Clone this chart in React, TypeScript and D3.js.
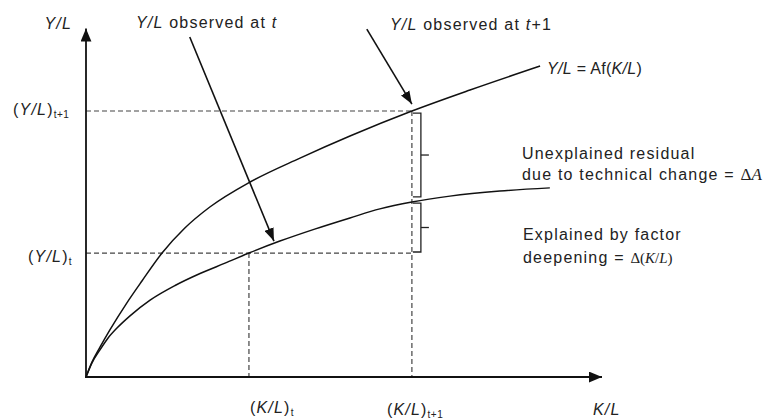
import React from 'react';
import * as d3 from 'd3';

// values (x = K/L units, y = Y/L units)
const kt = 3;
const kt1 = 6;
const yt = 4.66;
const yt1 = 10;

const upperX = [0, 0.11, 0.26, 0.44, 0.75, 1.03, 1.4, 1.82, 2.28, 3.02, 3.94, 4.86, 6.0, 7.07, 8.36];
const upperY = [0, 0.56, 1.13, 1.77, 2.78, 3.61, 4.66, 5.6, 6.39, 7.33, 8.23, 9.06, 10.0, 10.79, 11.69];

const lowerX = [0, 0.11, 0.26, 0.4, 0.57, 0.81, 1.18, 1.64, 2.1, 2.56, 3.0, 3.57, 4.21, 4.86, 5.41, 6.0, 6.7, 7.62, 8.54];
const lowerY = [0, 0.53, 1.03, 1.45, 1.84, 2.3, 2.89, 3.44, 3.89, 4.28, 4.66, 5.11, 5.56, 5.98, 6.32, 6.58, 6.8, 6.99, 7.11];

// annotation arrows: [fromX, fromY, toX, toY]
const arrowT = [1.91, 12.78, 3.46, 5.11];
const arrowT1 = [5.17, 13.08, 6.0, 10.26];

const W = 772;
const H = 419;

const xScale = d3.scaleLinear().domain([0, 9.5]).range([86, 602]);
const yScale = d3.scaleLinear().domain([0, 13]).range([377, 31.2]);

const line = d3
  .line<[number, number]>()
  .x((d) => xScale(d[0]))
  .y((d) => yScale(d[1]))
  .curve(d3.curveMonotoneX);

const upper = upperX.map((x, i) => [x, upperY[i]] as [number, number]);
const lower = lowerX.map((x, i) => [x, lowerY[i]] as [number, number]);

const sans = "'Liberation Sans', Arial, sans-serif";
const serif = "'Liberation Serif', 'Times New Roman', serif";
const txt = { fontFamily: sans, fontSize: 16, letterSpacing: 1.2, fill: '#222' };

function Bracket({ top, bottom }: { top: number; bottom: number }) {
  const x0 = xScale(kt1) + 1;
  const x1 = xScale(kt1) + 9;
  const mid = (yScale(top) + yScale(bottom)) / 2;
  return (
    <g stroke="#222" strokeWidth={1.3} fill="none">
      <path d={`M${x0},${yScale(top)}H${x1}V${yScale(bottom)}H${x0}`} />
      <line x1={x1} x2={x1 + 8} y1={mid} y2={mid} />
    </g>
  );
}

export default function App() {
  const x0 = xScale(0);
  const y0 = yScale(0);
  return (
    <svg
      width={W}
      height={H}
      style={{ position: 'absolute', left: 0, top: 0, background: '#fff' }}
    >
      <defs>
        <marker id="axisHead" markerUnits="userSpaceOnUse" viewBox="0 0 12 10" refX={12} refY={5}
          markerWidth={13} markerHeight={11} orient="auto">
          <path d="M0,0L12,5L0,10Z" fill="#111" />
        </marker>
        <marker id="head" markerUnits="userSpaceOnUse" viewBox="0 0 12 9" refX={12} refY={4.5}
          markerWidth={13} markerHeight={10} orient="auto">
          <path d="M0,0L12,4.5L0,9Z" fill="#111" />
        </marker>
      </defs>

      {/* dashed guides */}
      <g stroke="#444" strokeWidth={1.2} strokeDasharray="5,3" fill="none">
        <line x1={x0} x2={xScale(kt1)} y1={yScale(yt1)} y2={yScale(yt1)} />
        <line x1={x0} x2={xScale(kt1)} y1={yScale(yt)} y2={yScale(yt)} />
        <line x1={xScale(kt)} x2={xScale(kt)} y1={yScale(yt)} y2={y0} />
        <line x1={xScale(kt1)} x2={xScale(kt1)} y1={yScale(yt1)} y2={y0} />
      </g>

      {/* curves */}
      <path d={line(upper) || ''} fill="none" stroke="#111" strokeWidth={1.5} />
      <path d={line(lower) || ''} fill="none" stroke="#111" strokeWidth={1.5} />

      {/* axes */}
      <line x1={x0} y1={y0 + 1} x2={x0} y2={yScale(13.1)} stroke="#111" strokeWidth={1.8} markerEnd="url(#axisHead)" />
      <line x1={x0 - 1} y1={y0} x2={xScale(9.5)} y2={y0} stroke="#111" strokeWidth={1.8} markerEnd="url(#axisHead)" />

      {/* annotation arrows */}
      {[arrowT, arrowT1].map((a, i) => (
        <line key={i} x1={xScale(a[0])} y1={yScale(a[1])} x2={xScale(a[2])} y2={yScale(a[3])}
          stroke="#111" strokeWidth={1.6} markerEnd="url(#head)" />
      ))}

      <Bracket top={9.92} bottom={6.77} />
      <Bracket top={6.54} bottom={4.7} />

      {/* axis labels */}
      <text {...txt} x={72} y={29} textAnchor="end"><tspan fontStyle="italic">Y/L</tspan></text>
      <text {...txt} x={593} y={415}><tspan fontStyle="italic">K/L</tspan></text>

      <text {...txt} x={13} y={yScale(yt1) + 4}>
        (<tspan fontStyle="italic">Y/L</tspan>)<tspan fontSize={10} dy={3} letterSpacing={0.5}>t+1</tspan>
      </text>
      <text {...txt} x={28} y={yScale(yt) + 9}>
        (<tspan fontStyle="italic">Y/L</tspan>)<tspan fontSize={10} dy={3}>t</tspan>
      </text>
      <text {...txt} x={xScale(kt) + 1} y={413}>
        (<tspan fontStyle="italic">K/L</tspan>)<tspan fontSize={10} dy={3}>t</tspan>
      </text>
      <text {...txt} x={xScale(kt1) - 25} y={415}>
        (<tspan fontStyle="italic">K/L</tspan>)<tspan fontSize={10} dy={3} letterSpacing={0.5}>t+1</tspan>
      </text>

      {/* annotations */}
      <text {...txt} x={136} y={28}>
        <tspan fontStyle="italic">Y/L</tspan> observed at <tspan fontStyle="italic">t</tspan>
      </text>
      <text {...txt} x={390} y={30}>
        <tspan fontStyle="italic">Y/L</tspan> observed at <tspan fontStyle="italic">t</tspan>+1
      </text>
      <text {...txt} x={547} y={74} letterSpacing={0.3}>
        <tspan fontStyle="italic">Y/L</tspan> = Af(<tspan fontStyle="italic">K/L</tspan>)
      </text>

      <text {...txt} x={522} y={159}>Unexplained residual</text>
      <text {...txt} x={522} y={180}>
        due to technical change ={' '}
        <tspan fontFamily={serif} fontSize={17} letterSpacing={0}>Δ<tspan fontStyle="italic">A</tspan></tspan>
      </text>
      <text {...txt} x={523} y={240}>Explained by factor</text>
      <text {...txt} x={523} y={263}>
        deepening ={' '}
        <tspan fontFamily={serif} fontSize={15} letterSpacing={0}>
          Δ(<tspan fontStyle="italic">K</tspan>/<tspan fontStyle="italic">L</tspan>)
        </tspan>
      </text>
    </svg>
  );
}
